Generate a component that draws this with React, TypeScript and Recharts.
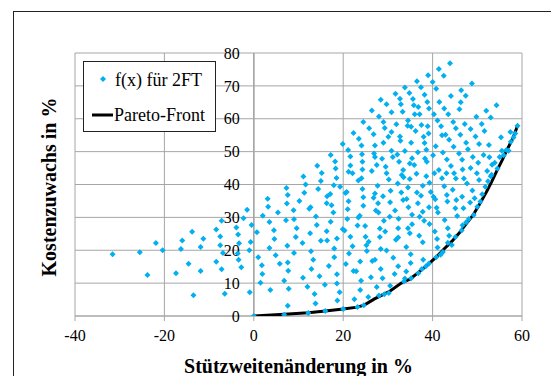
import React from "react";
import {
  ScatterChart,
  Scatter,
  XAxis,
  YAxis,
  CartesianGrid,
  ReferenceLine,
  ReferenceDot,
  Label,
} from "recharts";

const seriesNames = ["f(x) für 2FT", "Pareto-Front"];
const xTicks = [-40, -20, 0, 20, 40, 60];
const yTicks = [0, 10, 20, 30, 40, 50, 60, 70, 80];

// f(x) samples [Stützweitenänderung, Kostenzuwachs]
const leftPoints: [number, number][] = [
  [-31.6, 18.8], [-25.5, 19.4], [-23.8, 12.5], [-21.9, 22.2], [-20.4, 20.0], [-17.4, 13.0],
  [-16.3, 20.4], [-16.0, 23.0], [-13.8, 25.6], [-14.6, 15.9], [-13.5, 6.3], [-11.9, 21.0],
  [-11.3, 23.5], [-11.9, 13.7], [-8.4, 26.3], [-8.4, 16.5], [-7.5, 24.2], [-7.5, 21.5],
  [-7.2, 29.0], [-6.9, 19.2], [-7.2, 14.2], [-6.5, 6.8], [-3.9, 26.9], [-3.5, 24.8],
  [-3.3, 22.1], [-3.4, 17.1], [-2.8, 14.8], [-3.6, 19.0], [-2.3, 29.7], [-1.5, 32.3],
  [-1.0, 20.0], [-0.9, 7.2], [-0.7, 22.5], [-0.5, 27.7], [0, 0],
];

const midPoints: [number, number][] = [
  [0.7, 25.5], [1.0, 17.9], [1.5, 10.1], [1.8, 15.4], [1.9, 12.8], [2.0, 30.5], [3.1, 35.7],
  [3.2, 33.2], [3.5, 28.6], [3.5, 20.7], [3.7, 7.9], [4.5, 26.1], [4.6, 23.4], [4.9, 18.5],
  [5.4, 31.5], [5.8, 15.9], [6.8, 10.7], [6.8, 0.4], [7.2, 29.1], [7.3, 38.9], [7.4, 34.2],
  [7.5, 21.4], [7.6, 36.8], [7.6, 16.3], [7.7, 13.8], [7.8, 8.3], [7.6, 3.1], [9.0, 29.4],
  [8.9, 32.2], [9.0, 19.2], [9.4, 24.0], [9.6, 26.7], [10.2, 35.0], [10.9, 22.2], [11.0, 11.6],
  [11.1, 42.4], [11.3, 37.5], [11.6, 40.0], [12.0, 8.9], [12.2, 0.9], [12.4, 32.6], [12.6, 25.2],
  [12.7, 33.1], [12.8, 19.7], [12.9, 14.3], [13.3, 17.1], [13.6, 6.7], [13.8, 3.8], [13.9, 30.3],
  [14.1, 27.7], [14.2, 45.7], [14.4, 38.6], [14.7, 12.1], [15.0, 22.9], [15.0, 41.1], [15.2, 43.5],
  [15.9, 9.5], [16.0, 1.5], [16.3, 34.3], [16.3, 25.8], [16.4, 23.0], [16.4, 36.4], [16.8, 15.2],
  [17.1, 37.1], [17.2, 28.7], [17.2, 49.0], [17.4, 33.7], [17.8, 31.5], [17.9, 39.8], [18.0, 20.5],
  [18.0, 17.9], [18.2, 47.0], [18.3, 44.9], [18.5, 42.0], [18.6, 23.6], [18.6, 12.7], [18.6, 9.9],
  [18.7, 4.7], [19.2, 7.2], [19.3, 39.3], [19.9, 52.3], [19.9, 26.4], [20.0, 2.1], [20.3, 26.0],
  [20.5, 37.4], [20.6, 15.8], [20.8, 37.7], [20.9, 29.5], [21.0, 32.5], [21.1, 50.5], [21.2, 43.9],
  [21.2, 34.9], [21.3, 19.0], [21.6, 48.5], [21.6, 45.8], [21.6, 24.1], [22.1, 21.2], [22.1, 43.4],
  [22.3, 55.7], [22.3, 13.7], [22.9, 13.6], [22.5, 5.1], [23.2, 2.7], [23.2, 27.5], [23.4, 41.2],
  [23.4, 30.0], [23.5, 53.9], [23.7, 30.5], [23.8, 16.6], [23.8, 7.9], [24.0, 10.7], [24.1, 41.9],
  [24.1, 51.9], [24.2, 49.2], [24.3, 46.9], [24.3, 44.6], [24.3, 38.6], [24.5, 36.1], [24.5, 59.0],
  [24.5, 33.5], [24.6, 3.3], [24.9, 27.4], [25.0, 24.1], [25.2, 21.5], [25.6, 5.8], [25.8, 57.1],
  [25.3, 19.8], [25.7, 22.6], [26.2, 11.8], [26.5, 16.7], [27.1, 17.1], [26.4, 44.1], [26.4, 62.5],
  [26.8, 36.0], [26.8, 55.3], [26.9, 49.4], [27.1, 51.9], [27.1, 48.4], [27.1, 37.3], [27.3, 32.1],
  [27.5, 45.9], [27.5, 8.8], [27.7, 39.6], [27.8, 34.3], [27.9, 31.5], [28.0, 60.7], [28.0, 6.2],
  [28.2, 26.6], [28.2, 24.0], [28.4, 65.8], [28.4, 20.4], [28.4, 14.3], [28.7, 47.8], [28.8, 11.5],
  [28.9, 36.4], [29.0, 59.0], [29.0, 52.7], [29.1, 29.0], [29.2, 6.6], [29.3, 57.2], [29.4, 25.7],
  [29.5, 45.4], [29.7, 43.4], [29.7, 64.4], [29.7, 19.9],
];

const rightPoints: [number, number][] = [
  [30.1, 54.5], [30.2, 41.5], [30.2, 7.0], [30.4, 30.2], [30.5, 34.6], [30.5, 9.2], [30.6, 38.1],
  [30.8, 62.0], [30.8, 56.0], [30.8, 50.3], [31.1, 48.4], [31.2, 17.7], [31.7, 67.6], [31.5, 12.8],
  [31.6, 32.1], [31.8, 23.2], [31.9, 58.3], [32.1, 49.1], [32.2, 40.3], [32.3, 23.9], [32.3, 15.1],
  [32.3, 26.7], [32.4, 29.6], [32.5, 46.9], [32.7, 54.6], [32.7, 66.1], [32.8, 53.3], [32.9, 64.4],
  [33.0, 37.6], [33.1, 42.9], [33.3, 62.1], [33.4, 44.4], [33.4, 35.3], [33.5, 42.2], [33.6, 10.5],
  [33.8, 11.4], [33.8, 50.2], [33.8, 69.5], [34.1, 21.0], [34.1, 13.5], [34.2, 35.6], [34.4, 57.9],
  [34.5, 39.1], [34.5, 26.7], [34.5, 59.5], [34.6, 33.1], [34.8, 67.8], [34.9, 46.4], [34.9, 25.2],
  [34.9, 41.7], [35.1, 18.8], [35.1, 16.1], [35.2, 52.7], [35.2, 57.6], [35.4, 48.0], [35.4, 30.8],
  [35.4, 27.9], [35.6, 66.0], [35.8, 64.1], [35.9, 45.9], [36.0, 61.4], [36.2, 56.3], [36.4, 43.3],
  [36.5, 71.4], [36.5, 37.6], [36.7, 49.8], [36.7, 34.3], [36.8, 63.6], [37.0, 24.4], [37.1, 61.4],
  [37.1, 30.2], [37.4, 69.6], [37.4, 36.6], [37.5, 58.1], [37.6, 14.3], [37.8, 31.7], [37.8, 39.6],
  [37.8, 22.4], [37.9, 17.1], [38.0, 54.5], [38.1, 29.0], [38.2, 52.6], [38.2, 67.3], [38.3, 47.9],
  [38.5, 15.1], [38.6, 50.6], [38.6, 42.5], [38.7, 46.9], [38.8, 65.1], [38.9, 57.7], [39.0, 73.2],
  [39.1, 55.5], [39.2, 63.1], [39.2, 33.1], [39.3, 40.5], [39.3, 28.0], [39.6, 37.7], [40.0, 71.2],
  [40.1, 48.9], [40.2, 36.3], [40.3, 61.4], [40.4, 43.4], [40.5, 25.7], [40.6, 35.5], [40.7, 51.6],
  [40.8, 69.1], [40.8, 17.9], [40.9, 32.9], [41.0, 23.4], [41.1, 59.5], [41.1, 20.8], [41.2, 31.5],
  [41.4, 44.4], [41.4, 75.1], [41.5, 65.1], [41.8, 18.6], [41.9, 57.7], [42.1, 55.0], [42.1, 41.9],
  [42.3, 49.7], [42.5, 73.1], [42.6, 63.1], [42.6, 39.5], [42.7, 29.2], [42.9, 55.1], [43.1, 43.4],
  [43.2, 47.6], [43.2, 36.8], [43.3, 34.8], [43.4, 26.7], [43.5, 61.4], [43.7, 24.4], [43.7, 53.6],
  [43.9, 76.9], [44.1, 66.9], [44.1, 45.6], [44.3, 21.6], [44.5, 38.4], [44.6, 59.0], [44.7, 51.5],
  [44.8, 43.4], [45.1, 32.8], [45.2, 57.1], [45.2, 41.8], [45.3, 35.3], [45.5, 30.4], [45.9, 49.4],
  [46.0, 62.9], [46.2, 55.1], [46.3, 65.0], [46.4, 68.7], [46.5, 26.0], [46.6, 47.5], [46.6, 36.3],
  [46.7, 44.6], [46.7, 27.6], [46.9, 32.8], [47.0, 41.8], [47.2, 58.4], [47.4, 67.0], [47.5, 52.7],
  [47.7, 40.3], [47.9, 50.7], [48.1, 29.5], [48.4, 34.5], [48.5, 45.0], [48.5, 56.9], [48.8, 70.7],
  [48.9, 38.2], [49.0, 48.4], [49.2, 30.7], [49.4, 35.8], [49.6, 54.6], [49.8, 60.6], [49.9, 43.4],
  [50.0, 33.2], [50.2, 46.6], [50.4, 52.3], [50.4, 41.4], [50.7, 34.8], [51.0, 58.4], [51.1, 37.0],
  [51.4, 49.0], [51.6, 56.3], [51.8, 39.3], [52.0, 62.4], [52.2, 44.1], [52.4, 41.0], [52.6, 52.0],
  [52.7, 48.3], [53.0, 60.4], [53.2, 43.0], [53.3, 46.0], [53.9, 46.6], [54.3, 64.1], [54.5, 44.9],
  [55.0, 48.4], [55.3, 54.4], [55.5, 50.3], [55.9, 48.9], [57.0, 50.3], [57.4, 56.0], [58.1, 54.3],
  [59.0, 57.9], [35.2, 11.5], [36.8, 13.0], [39.2, 16.0], [42.3, 19.5], [43.4, 22.3], [45.1, 24.0],
  [47.5, 28.5], [53.0, 42.5], [56.5, 50.5], [57.5, 53.0], [58.5, 55.5],
];

// Pareto-Front vertices
const paretoPoints: [number, number][] = [
  [0, 0], [6.8, 0.5], [12.2, 1.0], [16.0, 1.5], [20.0, 2.1], [23.2, 2.7], [24.8, 3.4],
  [27.0, 5.2], [29.0, 6.6], [30.5, 7.6], [33.0, 10.0], [35.0, 11.3], [37.6, 14.1], [39.0, 15.7],
  [40.8, 17.9], [42.5, 20.3], [44.3, 22.7], [46.0, 25.3], [47.5, 28.0], [49.0, 30.6], [50.5, 34.0],
  [52.0, 37.6], [53.2, 40.8], [54.5, 44.5], [55.6, 47.5], [56.6, 50.4], [58.0, 54.2], [59.0, 57.9],
];

const toRows = (pts: [number, number][]) => pts.map(([x, y]) => ({ x, y }));
const fxData = toRows([...leftPoints, ...midPoints, ...rightPoints]);
const paretoData = toRows(paretoPoints);

const FONT = "Liberation Serif";
const BLUE = "#00b0f0";
const GRID = "#a6a6a6";

const Diamond = (props: any) => {
  const { cx, cy } = props;
  if (cx == null || cy == null) return null;
  const r = 3;
  return (
    <polygon
      points={`${cx},${cy - r} ${cx + r},${cy} ${cx},${cy + r} ${cx - r},${cy}`}
      fill={BLUE}
    />
  );
};

const XTick = (props: any) => (
  <text x={props.x} y={props.y} dy="0.71em" textAnchor="middle" fontSize={16} fontFamily={FONT} fill="#000">
    {props.payload.value}
  </text>
);

const YTickLabel = (value: number) => (props: any) => {
  const vb = props.viewBox;
  return (
    <text
      x={vb.x - 14}
      y={vb.y + vb.height / 2}
      dy="0.355em"
      textAnchor="end"
      fontSize={16}
      fontFamily={FONT}
      fill="#000"
    >
      {value}
    </text>
  );
};

const XTitle = (props: any) => {
  const vb = props.viewBox;
  return (
    <text
      x={vb.x + vb.width / 2}
      y={vb.y + vb.height + 13}
      dy="0.71em"
      textAnchor="middle"
      fontSize={20}
      fontWeight="bold"
      fontFamily={FONT}
      fill="#000"
    >
      Stützweitenänderung in %
    </text>
  );
};

const App: React.FC = () => {
  return (
    <div style={{ position: "absolute", left: 0, top: 0, width: 551, height: 376, background: "#fff" }}>
      <ScatterChart width={551} height={376} margin={{ top: 53, right: 29, bottom: 30, left: 75 }}>
        <CartesianGrid stroke={GRID} horizontalValues={yTicks} verticalValues={xTicks} />
        <XAxis
          type="number"
          dataKey="x"
          domain={[-40, 60]}
          ticks={xTicks}
          height={30}
          tickSize={5}
          tickMargin={9}
          stroke={GRID}
          tick={<XTick />}
          allowDataOverflow
        >
          <Label content={<XTitle />} />
        </XAxis>
        <YAxis type="number" dataKey="y" domain={[0, 80]} ticks={yTicks} hide allowDataOverflow />
        <ReferenceLine x={0} stroke={GRID} strokeWidth={1.5} />
        {yTicks.map((v) => (
          <ReferenceDot
            key={v}
            x={0}
            y={v}
            r={0.01}
            fill="none"
            stroke="none"
            label={YTickLabel(v)}
          />
        ))}
        <Scatter
          name={seriesNames[1]}
          data={paretoData}
          line={{ stroke: "#000", strokeWidth: 3 }}
          shape={() => null}
          isAnimationActive={false}
        />
        <Scatter name={seriesNames[0]} data={fxData} shape={<Diamond />} isAnimationActive={false} />
      </ScatterChart>
      <svg
        width={551}
        height={376}
        style={{ position: "absolute", left: 0, top: 0, pointerEvents: "none" }}
        fontFamily={FONT}
      >
        <line x1={13.5} y1={11} x2={13.5} y2={376} stroke="#222" strokeWidth={1} />
        <line x1={13} y1={11.5} x2={551} y2={11.5} stroke="#222" strokeWidth={1} />
        <text
          transform="translate(56,187) rotate(-90)"
          textAnchor="middle"
          fontSize={20}
          fontWeight="bold"
          fill="#000"
        >
          Kostenzuwachs in %
        </text>
        <rect x={83.5} y={61.5} width={132} height={70} fill="#fff" stroke="#222" strokeWidth={1} />
        <polygon points="103,76 106,79 103,82 100,79" fill={BLUE} />
        <text x={115} y={86} fontSize={18} fill="#000">
          {seriesNames[0]}
        </text>
        <line x1={92} y1={115} x2={113} y2={115} stroke="#000" strokeWidth={3} />
        <text x={114} y={121} fontSize={18} fill="#000">
          {seriesNames[1]}
        </text>
      </svg>
    </div>
  );
};

export default App;
